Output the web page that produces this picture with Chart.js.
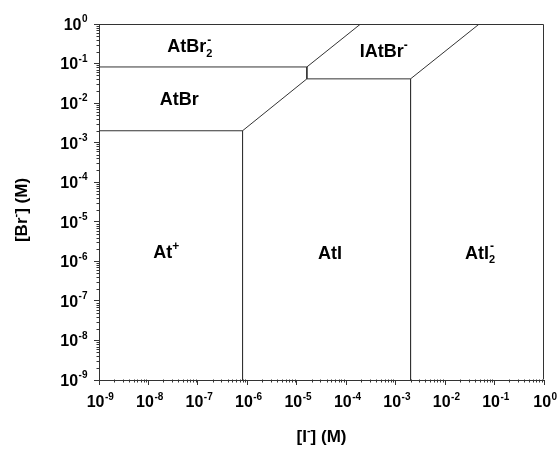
<!DOCTYPE html>
<html>
<head>
<meta charset="utf-8">
<script src="https://cdn.jsdelivr.net/npm/chart.js@4"></script>
<style>
  html, body { margin: 0; padding: 0; background: #fff; }
  #wrap { width: 558px; height: 453px; }
</style>
</head>
<body>
<div id="wrap"><canvas id="chart" width="558" height="453"></canvas></div>
<script>
// ---- data (log-log predominance diagram, concentrations in M) ----
// boundary polylines: [I-] values and [Br-] values
const lowerX = [1e-9, 8.0e-7, 1.6e-5, 2.0e-3, 0.049];
const lowerY = [2.0e-3, 2.0e-3, 0.041, 0.041, 1];
const upperX = [1e-9, 1.6e-5, 1.95e-4];
const upperY = [0.082, 0.082, 1];
const stepX = [1.6e-5, 1.6e-5];
const stepY = [0.082, 0.041];
const atAtIX = [8.0e-7, 8.0e-7];
const atAtIY = [2.0e-3, 1e-9];
const atIAtI2X = [2.0e-3, 2.0e-3];
const atIAtI2Y = [0.041, 1e-9];

// region labels
const regionNames = ['AtBr', 'AtBr', 'IAtBr', 'At', 'AtI', 'AtI'];
const regionSup = ['-', '', '-', '+', '', '-'];
const regionSub = ['2', '', '', '', '', '2'];
const regionX = [6.9e-8, 4.2e-8, 5.75e-4, 2.3e-8, 4.7e-5, 5.1e-2];
const regionY = [0.255, 0.012, 0.2, 1.62e-6, 1.55e-6, 1.55e-6];

// tick labels (powers of ten)
const tickValues = [1e-9, 1e-8, 1e-7, 1e-6, 1e-5, 1e-4, 1e-3, 1e-2, 1e-1, 1];
const tickExp = ['-9', '-8', '-7', '-6', '-5', '-4', '-3', '-2', '-1', '0'];

const FONT = '"Liberation Sans", Arial, sans-serif';
const INK = '#333';

function toPts(xs, ys) {
  return xs.map((x, i) => ({ x: x, y: ys[i] }));
}

function lineSet(xs, ys) {
  return {
    data: toPts(xs, ys),
    showLine: true,
    borderColor: INK,
    borderWidth: 1,
    pointRadius: 0,
    fill: false
  };
}

// draws a run of text pieces; pieces with adv:false do not move the pen (stacked sup/sub)
function drawPieces(ctx, pieces, x, y, align) {
  let total = 0;
  pieces.forEach(p => {
    ctx.font = 'bold ' + p.size + 'px ' + FONT;
    p.w = ctx.measureText(p.t).width;
    if (p.adv !== false) total += p.w;
  });
  let px = align === 'center' ? x - total / 2 : (align === 'right' ? x - total : x);
  ctx.textAlign = 'left';
  ctx.textBaseline = 'middle';
  pieces.forEach(p => {
    ctx.font = 'bold ' + p.size + 'px ' + FONT;
    ctx.fillText(p.t, px + (p.dx || 0), y + (p.dy || 0));
    if (p.adv !== false) px += p.w;
  });
}

const decorPlugin = {
  id: 'decor',
  afterDraw(chart) {
    const ctx = chart.ctx;
    const xs = chart.scales.x, ys = chart.scales.y;
    const a = chart.chartArea;
    ctx.save();
    ctx.strokeStyle = INK;
    ctx.fillStyle = '#000';
    ctx.lineWidth = 1;

    // top and right frame
    const l = Math.round(a.left) + 0.5, r = Math.round(a.right) - 0.5;
    const t = Math.round(a.top) + 0.5, b = Math.round(a.bottom) - 0.5;
    ctx.beginPath();
    ctx.moveTo(l, t); ctx.lineTo(r, t); ctx.lineTo(r, b);
    ctx.stroke();

    // minor ticks
    ctx.beginPath();
    for (let e = -9; e < 0; e++) {
      for (let k = 2; k <= 9; k++) {
        const v = k * Math.pow(10, e);
        const px = Math.round(xs.getPixelForValue(v)) + 0.5;
        ctx.moveTo(px, b); ctx.lineTo(px, b + 3);
        const py = Math.round(ys.getPixelForValue(v)) + 0.5;
        ctx.moveTo(l, py); ctx.lineTo(l - 3, py);
      }
    }
    ctx.stroke();

    // tick labels
    tickValues.forEach((v, i) => {
      const px = xs.getPixelForValue(v);
      drawPieces(ctx, [
        { t: '10', size: 16, dy: 0 },
        { t: tickExp[i], size: 10, dy: -6, dx: 0.5 }
      ], px + 1, a.bottom + 23, 'center');
      const py = ys.getPixelForValue(v);
      drawPieces(ctx, [
        { t: '10', size: 16, dy: 1.5 },
        { t: tickExp[i], size: 10, dy: -4.5, dx: 0.5 }
      ], a.left - 12, py, 'right');
    });

    // region labels
    regionNames.forEach((name, i) => {
      const pieces = [{ t: name, size: 18 }];
      if (regionSup[i] && regionSub[i]) {
        pieces.push({ t: regionSup[i], size: 12, dy: -7, dx: 1, adv: false });
        pieces.push({ t: regionSub[i], size: 11, dy: 6.5 });
      } else if (regionSup[i]) {
        pieces.push({ t: regionSup[i], size: 12, dy: -6 });
      }
      drawPieces(ctx, pieces, xs.getPixelForValue(regionX[i]), ys.getPixelForValue(regionY[i]), 'center');
    });

    // axis titles
    drawPieces(ctx, [
      { t: '[I', size: 17 },
      { t: '-', size: 11, dy: -6 },
      { t: '] (M)', size: 17 }
    ], (a.left + a.right) / 2, 437, 'center');

    ctx.translate(22, 210);
    ctx.rotate(-Math.PI / 2);
    drawPieces(ctx, [
      { t: '[Br', size: 17 },
      { t: '-', size: 11, dy: -6 },
      { t: '] (M)', size: 17 }
    ], 0, 0, 'center');

    ctx.restore();
  }
};

function axisOpts() {
  return {
    type: 'logarithmic',
    min: 1e-9,
    max: 1,
    afterBuildTicks: s => { s.ticks = tickValues.map(v => ({ value: v, major: true })); },
    ticks: { display: false },
    grid: { drawOnChartArea: false, drawTicks: true, tickLength: 5, tickColor: INK, tickWidth: 1 },
    border: { display: true, color: INK, width: 1 }
  };
}

new Chart(document.getElementById('chart'), {
  type: 'scatter',
  data: {
    datasets: [
      lineSet(lowerX, lowerY),
      lineSet(upperX, upperY),
      lineSet(stepX, stepY),
      lineSet(atAtIX, atAtIY),
      lineSet(atIAtI2X, atIAtI2Y)
    ]
  },
  options: {
    responsive: false,
    animation: false,
    layout: { padding: { left: 94, right: 14, top: 24, bottom: 68 } },
    plugins: { legend: { display: false }, tooltip: { enabled: false } },
    scales: { x: axisOpts(), y: axisOpts() }
  },
  plugins: [decorPlugin]
});
</script>
</body>
</html>
